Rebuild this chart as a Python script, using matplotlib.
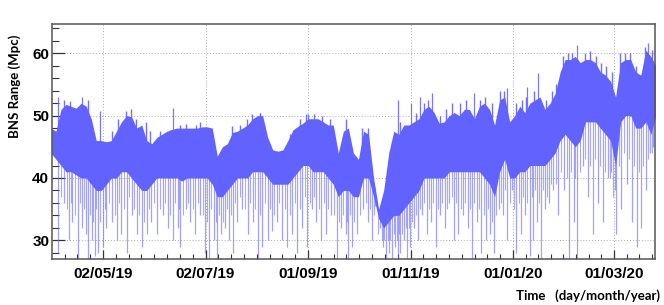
#!/usr/bin/env python3
"""
BNS range vs time (O3, April 2019 - March 2020), ROOT-like style.
"""

import numpy as np
import pandas as pd
import matplotlib
matplotlib.use("Agg")
import matplotlib.pyplot as plt
from matplotlib.ticker import FixedLocator, MultipleLocator, NullFormatter

START = pd.Timestamp("2019-04-01")
OUTPUT_FIGURE = "out.png"

# sampled every 3 days from 1 April 2019: upper / lower edge of the dense band (Mpc)
days = np.arange(0, 361, 3)
band_hi = [48, 47.5, 51, 51.8, 51.5, 51.2, 52, 51.5, 49.5, 46,
           46, 45.8, 46, 47.5, 49, 50, 49.8, 48, 48.5, 46,
           45.5, 46.5, 47, 47.5, 47.8, 48, 48, 48, 48, 48,
           48.2, 48.2, 48, 43.5, 45, 45.5, 47.3, 47.5, 48, 48.5,
           49.5, 50, 50, 46.5, 44.5, 44.3, 44.5, 46, 47.7, 48.3,
           48.8, 49.5, 49.5, 49.5, 49, 48.5, 48.5, 44, 47.5, 48,
           44, 43, 47.5, 47, 40, 35, 38, 44, 47.5, 47,
           48.5, 48.5, 49, 49.5, 51, 51.5, 50.5, 48.8, 49, 50,
           50.5, 50, 51, 51, 49.5, 51.5, 52, 51, 48.5, 52.5,
           53, 49, 50, 51.5, 50.5, 52, 52.5, 53, 51, 52,
           53.5, 57, 59, 59, 59.5, 58.5, 59, 59, 58.5, 57,
           56.5, 55.5, 53, 58.5, 59, 59, 57, 56.5, 60.5, 59.5,
           58]
band_lo = [44, 43, 42, 41, 41, 40.5, 40, 40, 39, 38,
           38, 39, 40, 40, 41, 41, 40, 39, 38, 38,
           39, 40, 40, 40, 40, 40, 39.5, 40, 40, 40,
           40, 40, 39, 37, 37, 38, 39, 40, 40, 40,
           41, 41, 41, 40, 39, 39, 39, 39, 40, 41,
           42, 42, 41, 41, 41, 40, 39, 37, 38, 38,
           37, 37, 40, 40, 37, 33.5, 32, 33, 34, 34,
           35, 36, 37, 38, 40, 40, 40, 40, 40, 41,
           41, 41, 41, 41, 41, 41, 40, 39, 37, 41,
           43, 40, 40, 41, 41, 42, 42, 42, 42, 43,
           44, 46, 47, 46, 45, 46, 49, 49, 49, 48,
           47, 46, 42, 49, 50, 50, 48, 48, 49, 47,
           50]

# deep drops (lock losses / glitches): day, lowest value
dip_days = [4, 8, 11, 12.5, 16, 18.5, 21, 22, 24.5, 26,
            28, 31, 33, 36.5, 39.5, 42, 45, 48, 51, 54,
            57, 59.5, 63, 66.5, 69.5, 72.5, 75.5, 77, 80.5, 82.5,
            86, 89, 91.5, 94, 97, 99, 101, 103.5, 106, 108.5,
            111, 114, 117, 120, 123, 125.5, 129, 131.5, 134.5, 137.5,
            140.5, 143.5, 146.5, 149.5, 152.5, 155.5, 158, 161, 163.5, 166.5,
            170, 172.5, 175.5, 177, 179, 182, 186, 188.5, 191, 193,
            196, 197.5, 199.5, 201, 203, 205, 206.5, 208, 210, 212,
            213.5, 216, 218.5, 221, 223.5, 226, 229, 231.5, 234.5, 237,
            240, 242.5, 245, 248, 250.5, 253.5, 256, 259, 261, 263.5,
            266.5, 269, 271.5, 274.5, 277, 280, 282, 285, 287, 289.5,
            291.5, 294, 296.5, 299, 301.5, 305.5, 308, 311, 313, 316.5,
            319.5, 322.5, 325.5, 328.5, 331.5, 333.5, 335.5, 336.5, 339.5, 342.5,
            345.5, 348.5, 351, 354, 356.5, 358.5]
dip_vals = [28, 36, 30, 33, 27, 32, 31, 27, 30, 27.5,
            28, 29, 32, 33, 30, 31, 28, 34, 31, 29,
            31, 33, 31, 34, 32, 30, 32, 29, 35, 33,
            31, 34, 28, 27, 30, 27, 31, 32, 30, 28,
            33, 35, 31, 33, 27, 29, 30, 31.5, 33, 30,
            29, 31, 28, 32, 29, 35, 33, 30, 31, 34,
            27, 32, 31, 27, 29, 31, 35, 33, 30, 35.5,
            32, 29, 27, 28, 27, 29, 27, 28, 30, 27,
            29, 32, 30, 34, 31, 33, 29, 34, 32, 36,
            30, 31, 34, 32, 27, 33, 28, 30, 31, 28,
            35, 34, 30, 38, 28, 31, 34, 27.5, 30, 33,
            27, 35, 36, 38, 34, 38, 27, 33, 27, 42,
            37, 31, 36, 33, 40, 41, 38, 31, 35, 39,
            33, 29, 32, 38, 44, 45]

# shorter drops below the band
short_days = [6, 9.5, 11.8, 14.3, 17.3, 19.8, 23.3, 25.3, 27, 29.5,
              32, 34.8, 38, 40.8, 43.5, 46.5, 49.5, 52.5, 55.5, 58.3,
              61.3, 64.8, 68, 71, 74, 76.3, 78.8, 81.5, 84.3, 87.5,
              90.3, 92.8, 95.5, 98, 100, 102.3, 104.8, 107.3, 109.8, 112.5,
              115.5, 118.5, 121.5, 124.3, 127.3, 130.3, 133, 136, 139, 142,
              145, 148, 151, 154, 156.8, 159.5, 162.3, 165, 168.3, 171.3,
              174, 176.3, 178, 180.5, 184, 187.3, 189.8, 192, 194.5, 196.8,
              198.5, 200.3, 202, 204, 205.8, 207.3, 209, 211, 212.8, 214.8,
              217.3, 219.8, 222.3, 224.8, 227.5, 230.3, 233, 235.8, 238.5, 241.3,
              243.8, 246.5, 249.3, 252, 254.8, 257.5, 260, 262.3, 265, 267.8,
              270.3, 273, 275.8, 278.5, 281, 283.5, 286, 288.3, 290.5, 292.8,
              295.3, 297.8, 300.3, 303.5, 306.8, 309.5, 312, 314.8, 318, 321,
              324, 327, 330, 332.5, 334.5, 338, 341, 344, 347, 349.8,
              352.5, 355.3, 357.5]
short_vals = [37, 35, 36, 34, 36, 35, 34, 33, 35, 33,
              35, 36, 34, 36, 35, 37, 35, 34, 33, 35,
              36, 35, 36, 34, 36, 35, 34, 36, 35, 36,
              34, 33, 35, 33, 34, 33, 35, 34, 36, 37,
              35, 36, 35, 34, 36, 35, 34, 36, 35, 34,
              36, 35, 37, 36, 37, 35, 36, 35, 34, 33,
              34, 33, 34, 33, 34, 36, 35, 34, 31, 30,
              30, 30, 30, 31, 30, 31, 31, 32, 32, 33,
              34, 35, 36, 35, 36, 35, 36, 35, 37, 36,
              35, 36, 35, 36, 35, 34, 35, 33, 34, 36,
              38, 36, 35, 36, 37, 36, 37, 38, 36, 38,
              37, 39, 39, 41, 40, 41, 40, 41, 43, 42,
              43, 42, 41, 40, 37, 42, 44, 43, 42, 41,
              42, 43, 44]

# upward excursions above the band: day, highest value
peak_days = [4, 18.5, 29.5, 72.5, 124.5, 153, 206.5, 214, 219.5, 226.5,
             251.5, 271.5, 283.5, 290, 313, 355.5]
peak_vals = [53, 53, 50.8, 51.2, 50.5, 50.3, 52.5, 52, 53, 53.7,
             53.6, 54.5, 54.6, 56.8, 61.3, 61.6]
top_days = [7.8, 11.4, 22.1, 36.3, 39.9, 44.7, 47.6, 50.7, 56.6, 59,
            65, 76.8, 80.4, 86.3, 88.7, 107.7, 112.5, 116.6, 119.6, 124.4,
            142.2, 148.2, 151.7, 156.5, 161.2, 166, 175.5, 185, 188.6, 207.7,
            217.2, 221.9, 224.3, 231.4, 235, 238.6, 243.4, 246.9, 255.3, 258.2,
            262.4, 267.2, 269.5, 276.7, 280.2, 282.6, 287.4, 294.5, 298.1, 300.5,
            304.6, 307.6, 310, 317.7, 320.7, 324.3, 327.2, 330.2, 333.8, 338.5,
            341.5, 344.5, 348.1, 353.4, 357.6]
top_vals = [52.5, 52.3, 52.5, 47.5, 49.5, 50.8, 51, 49.5, 49, 47.5,
            47.5, 48.5, 48.7, 48.5, 49, 48.3, 48.5, 49.5, 50.3, 50.5,
            47, 49.5, 50.2, 50.3, 50, 49.5, 49.5, 48, 48, 49,
            50.5, 52, 52.5, 50, 51, 52, 52, 52.5, 52.5, 53,
            52, 54, 54, 52, 52.5, 53, 54, 52.5, 54, 55,
            59.5, 60, 60, 60, 60.3, 59.5, 58.5, 58, 57, 60,
            60, 60, 58, 61, 60.5]

tick_dates = ["2019-05-02", "2019-07-02", "2019-09-01",
              "2019-11-01", "2020-01-01", "2020-03-01"]
tick_labels = ["02/05/19", "02/07/19", "01/09/19",
               "01/11/19", "01/01/20", "01/03/20"]

LINE_COLOR = "#6262ff"


def nearest_mid(spike_days):
    """Band mid value at the nearest sampled day."""
    hi = np.array(band_hi)
    lo = np.array(band_lo)
    idx = np.clip(np.round(np.array(spike_days) / 3).astype(int), 0, len(days) - 1)
    return (hi[idx] + lo[idx]) / 2


def main():
    fig = plt.figure(figsize=(6.64, 3.05), dpi=100)
    ax = fig.add_axes([0.0783, 0.1508, 0.908, 0.7705])

    # spikes first, the dense band is drawn over them
    ax.vlines(short_days, short_vals, nearest_mid(short_days), color=LINE_COLOR,
              linewidth=0.8, alpha=0.55, zorder=2)
    ax.vlines(dip_days, dip_vals, nearest_mid(dip_days), color=LINE_COLOR,
              linewidth=0.9, alpha=0.6, zorder=2)
    ax.vlines(top_days, nearest_mid(top_days), top_vals, color=LINE_COLOR,
              linewidth=1.0, alpha=0.9, zorder=2)
    ax.vlines(peak_days, nearest_mid(peak_days), peak_vals, color=LINE_COLOR,
              linewidth=0.9, alpha=0.85, zorder=2)
    ax.fill_between(days, band_lo, band_hi, color=LINE_COLOR, linewidth=0, zorder=3)

    ax.set_xlim(0.65, 359.4)
    ax.set_ylim(27, 64.7)

    # x ticks: dates, 8 minor divisions between labels
    major = (pd.to_datetime(tick_dates) - START).days.to_numpy().astype(float)
    step = np.diff(major)
    minor = [major[0] - step[0] * k / 8 for k in range(1, 8)]
    for i in range(len(step)):
        minor += [major[i] + step[i] * k / 8 for k in range(1, 8)]
    minor += [major[-1] + step[-1] * k / 8 for k in range(1, 8)]
    ax.xaxis.set_major_locator(FixedLocator(major))
    ax.xaxis.set_minor_locator(FixedLocator(minor))
    ax.set_xticklabels(tick_labels)
    ax.xaxis.set_minor_formatter(NullFormatter())

    ax.yaxis.set_major_locator(MultipleLocator(10))
    ax.yaxis.set_minor_locator(MultipleLocator(2))

    ax.tick_params(axis="both", which="both", direction="in", color="#333333",
                   top=False, right=False)
    ax.tick_params(axis="y", which="major", length=9.5, width=0.9, pad=2)
    ax.tick_params(axis="y", which="minor", length=5, width=0.8)
    ax.tick_params(axis="x", which="major", length=6.5, width=0.9, pad=6)
    ax.tick_params(axis="x", which="minor", length=3.8, width=0.8)
    for lab in ax.get_xticklabels() + ax.get_yticklabels():
        lab.set_fontfamily("Liberation Sans")
        lab.set_fontweight("bold")
        lab.set_fontsize(11)

    ax.grid(True, which="major", color="#aaaaaa", linestyle=(0, (1, 2)),
            linewidth=0.7, zorder=0)
    ax.set_axisbelow(True)
    for sp in ax.spines.values():
        sp.set_color("#555555")
        sp.set_linewidth(1.1)
        sp.set_zorder(5)

    fig.text(15 / 664, 1 - 35 / 305, "BNS Range (Mpc)", rotation=90,
             ha="center", va="top", fontsize=9.5, fontweight="bold",
             family=["Lato", "DejaVu Sans"])
    fig.text(660 / 664, 1 - 296 / 305, "Time   (day/month/year)",
             ha="right", va="center", fontsize=9.5, fontweight="bold",
             family=["Lato", "DejaVu Sans"])

    fig.savefig(OUTPUT_FIGURE, dpi=100)


if __name__ == "__main__":
    main()
